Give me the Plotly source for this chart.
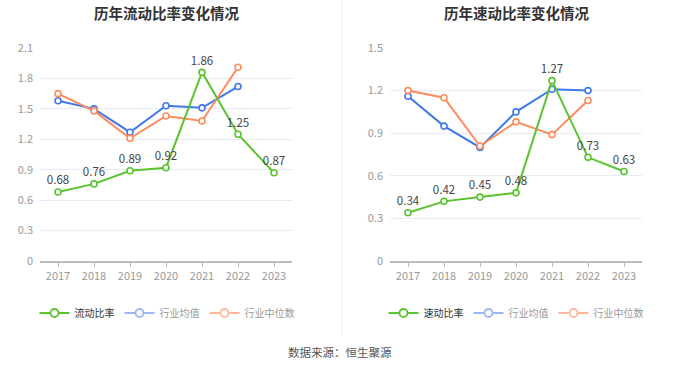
import plotly.graph_objects as go

years = ["2017", "2018", "2019", "2020", "2021", "2022", "2023"]

current_ratio = [0.68, 0.76, 0.89, 0.92, 1.86, 1.25, 0.87]
current_mean = [1.58, 1.50, 1.27, 1.53, 1.51, 1.72, None]
current_median = [1.65, 1.48, 1.21, 1.43, 1.38, 1.91, None]

quick_ratio = [0.34, 0.42, 0.45, 0.48, 1.27, 0.73, 0.63]
quick_mean = [1.16, 0.95, 0.80, 1.05, 1.21, 1.20, None]
quick_median = [1.20, 1.15, 0.81, 0.98, 0.89, 1.13, None]

left_ticks = [0, 0.3, 0.6, 0.9, 1.2, 1.5, 1.8, 2.1]
right_ticks = [0, 0.3, 0.6, 0.9, 1.2, 1.5]

GREEN = "#5ac42e"
BLUE = "#3f78e8"
ORANGE = "#ff8a5c"
FONT = "Noto Sans CJK SC"

fig = go.Figure()

def add_series(x, y, color, xa, ya, text=False):
    fig.add_trace(go.Scatter(
        x=x, y=y, mode="lines+markers+text" if text else "lines+markers",
        line=dict(color=color, width=2),
        marker=dict(symbol="circle", size=6, color="white", line=dict(color=color, width=1.6)),
        text=[f"{v:.2f}" for v in y] if text else None,
        textposition="top center",
        textfont=dict(color="#444", size=11.5, family=FONT),
        xaxis=xa, yaxis=ya, showlegend=False, cliponaxis=False,
    ))

add_series(years, current_mean, BLUE, "x", "y")
add_series(years, current_median, ORANGE, "x", "y")
add_series(years, current_ratio, GREEN, "x", "y", text=True)
add_series(years, quick_mean, BLUE, "x2", "y2")
add_series(years, quick_median, ORANGE, "x2", "y2")
add_series(years, quick_ratio, GREEN, "x2", "y2", text=True)

def legend_entry(name, color, textcolor, legend):
    fig.add_trace(go.Scatter(
        x=[None], y=[None], mode="lines+markers", name=f"<span style='color:{textcolor}'>{name}</span>",
        line=dict(color=color, width=2),
        marker=dict(symbol="circle", size=8, color="white", line=dict(color=color, width=1.8)),
        legend=legend, showlegend=True, xaxis="x", yaxis="y",
    ))

legend_entry("流动比率", GREEN, "#333", "legend")
legend_entry("行业均值", "#9bb8f5", "#999", "legend")
legend_entry("行业中位数", "#ffb89c", "#999", "legend")
legend_entry("速动比率", GREEN, "#333", "legend2")
legend_entry("行业均值", "#9bb8f5", "#999", "legend2")
legend_entry("行业中位数", "#ffb89c", "#999", "legend2")

ydom = [1 - 261 / 367, 1 - 48 / 367]
xcommon = dict(type="category", range=[-0.5, 6.5], showgrid=False, showline=True,
               linecolor="#bbbbbb", linewidth=1.5, ticks="outside", ticklen=4,
               tickcolor="#bbbbbb", tickfont=dict(color="#999", size=11, family=FONT),
               fixedrange=True, zeroline=False, automargin=False)
ycommon = dict(showgrid=True, gridcolor="#e6ebf5", gridwidth=1, zeroline=False,
               showline=False, tickfont=dict(color="#999", size=11, family=FONT),
               ticklabelstandoff=6, domain=ydom, automargin=False, fixedrange=True)

legcommon = dict(orientation="h", yanchor="middle", xanchor="center",
                 font=dict(size=10, family=FONT, color="#333"), itemwidth=30,
                 bgcolor="rgba(0,0,0,0)", tracegroupgap=0, itemclick=False)

fig.update_layout(
    width=680, height=367, margin=dict(l=0, r=0, t=0, b=0, pad=0, autoexpand=False),
    paper_bgcolor="white", plot_bgcolor="white",
    font=dict(family=FONT),
    xaxis=dict(domain=[40 / 680, 292 / 680], anchor="y", **xcommon),
    yaxis=dict(range=[0, 2.1], tickvals=left_ticks, ticktext=[f"{v:g}" for v in left_ticks],
               anchor="x", **ycommon),
    xaxis2=dict(domain=[390 / 680, 642 / 680], anchor="y2", **xcommon),
    yaxis2=dict(range=[0, 1.5], tickvals=right_ticks, ticktext=[f"{v:g}" for v in right_ticks],
                anchor="x2", **ycommon),
    legend=dict(x=167 / 680, y=1 - 313 / 367, **legcommon),
    legend2=dict(x=516 / 680, y=1 - 313 / 367, **legcommon),
    showlegend=True,
    annotations=[
        dict(text="<b>历年流动比率变化情况</b>", x=166 / 680, y=1 - 12 / 367, xref="paper", yref="paper",
             showarrow=False, font=dict(size=14.5, color="#333", family=FONT), xanchor="center", yanchor="middle"),
        dict(text="<b>历年速动比率变化情况</b>", x=516 / 680, y=1 - 12 / 367, xref="paper", yref="paper",
             showarrow=False, font=dict(size=14.5, color="#333", family=FONT), xanchor="center", yanchor="middle"),
        dict(text="数据来源：恒生聚源", x=0.5, y=1 - 352 / 367, xref="paper", yref="paper",
             showarrow=False, font=dict(size=11.5, color="#555", family=FONT), xanchor="center", yanchor="middle"),
    ],
    shapes=[dict(type="line", xref="paper", yref="paper", x0=342 / 680, x1=342 / 680,
                 y0=1 - 335 / 367, y1=1, line=dict(color="#eeeeee", width=1))],
)

fig.write_html("out.html", config={"displayModeBar": False},
               post_script="document.body.style.margin='0';document.body.style.overflow='hidden';")
